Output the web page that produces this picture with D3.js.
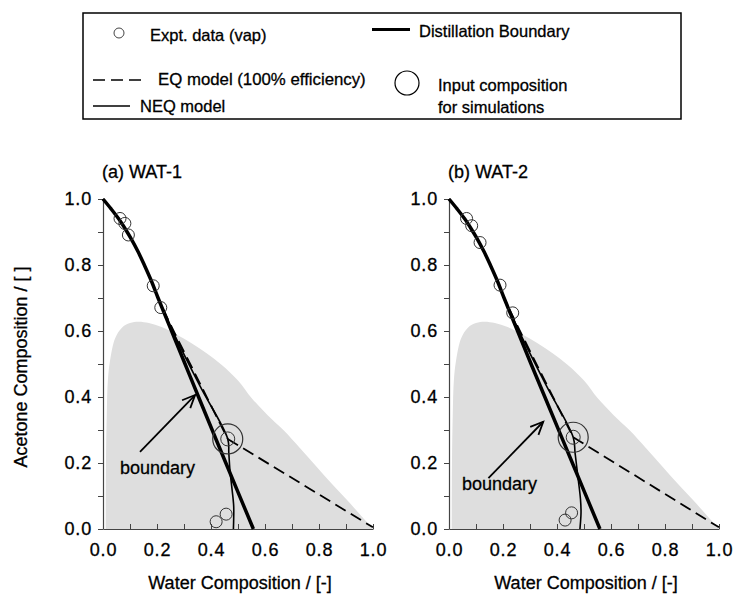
<!DOCTYPE html>
<html><head><meta charset="utf-8">
<script src="https://cdn.jsdelivr.net/npm/d3@7"></script>
<style>
body{margin:0;background:#fff}
text{font-family:"Liberation Sans",Arial,Helvetica,sans-serif;fill:#000;stroke:#000;stroke-width:0.3px}
</style>
</head><body>
<svg id="chart" width="735" height="600"></svg>
<script>
// ---------------- data ----------------
const xTickValues = [0.0, 0.2, 0.4, 0.6, 0.8, 1.0];
const yTickValues = [0.0, 0.2, 0.4, 0.6, 0.8, 1.0];
const minorTickValues = [0.1, 0.3, 0.5, 0.7, 0.9];
const panelTitles = ["(a) WAT-1", "(b) WAT-2"];
const xTitle = "Water Composition / [-]";
const yTitle = "Acetone Composition / [ ]";

// two-liquid-phase (shaded) region, [water, acetone]
const twoPhaseRegion = [[0.010,0],[0.011,0.20],[0.014,0.35],[0.018,0.45],[0.026,0.51],[0.045,0.578],[0.070,0.610],
  [0.100,0.624],[0.131,0.628],[0.170,0.624],[0.217,0.612],[0.270,0.590],[0.328,0.563],[0.385,0.532],[0.440,0.497],
  [0.500,0.450],[0.551,0.396],[0.610,0.345],[0.668,0.300],[0.730,0.245],[0.791,0.189],[0.850,0.135],[0.915,0.078],
  [0.960,0.036],[1.000,0.000]];

// distillation boundary
const boundaryA = [[0,1],[0.030,0.970],[0.058,0.940],[0.082,0.910],[0.104,0.880],[0.130,0.840],[0.153,0.800],[0.180,0.750],
  [0.204,0.700],[0.254,0.600],[0.304,0.500],[0.354,0.400],[0.455,0.200],[0.557,0]];
const boundaryB = [[0,1],[0.030,0.970],[0.058,0.940],[0.082,0.910],[0.104,0.880],[0.130,0.840],[0.153,0.800],[0.180,0.750],
  [0.204,0.700],[0.254,0.600],[0.304,0.500],[0.355,0.400],[0.457,0.200],[0.559,0]];

// EQ model (upper part to feed, then straight to bottom)
const eqUpperA = [[0,1],[0.030,0.970],[0.058,0.940],[0.082,0.910],[0.104,0.880],[0.130,0.840],[0.153,0.800],[0.180,0.750],
  [0.204,0.700],[0.232,0.650],[0.266,0.593],[0.364,0.433],[0.462,0.273]];
const eqLowerA = [[0.462,0.273],[1.000,0.005]];
const eqUpperB = [[0,1],[0.030,0.970],[0.058,0.940],[0.082,0.910],[0.104,0.880],[0.130,0.840],[0.153,0.800],[0.180,0.750],
  [0.204,0.700],[0.232,0.652],[0.266,0.595],[0.363,0.436],[0.460,0.278]];
const eqLowerB = [[0.460,0.278],[1.000,0.005]];

// NEQ model
const neqA = [[0,1],[0.030,0.970],[0.058,0.940],[0.082,0.910],[0.104,0.880],[0.130,0.840],[0.153,0.800],[0.180,0.750],
  [0.204,0.700],[0.230,0.650],[0.262,0.593],[0.360,0.432],[0.462,0.273],
  [0.466,0.230],[0.470,0.179],[0.478,0.120],[0.484,0.070],[0.484,0.030],[0.483,0]];
const neqB = [[0,1],[0.030,0.970],[0.058,0.940],[0.082,0.910],[0.104,0.880],[0.130,0.840],[0.153,0.800],[0.180,0.750],
  [0.204,0.700],[0.230,0.652],[0.262,0.595],[0.360,0.435],[0.460,0.278],
  [0.467,0.230],[0.479,0.148],[0.487,0.090],[0.489,0.050],[0.487,0.020],[0.485,0]];

// experimental vapour data
const exptA = [[0.063,0.941],[0.081,0.926],[0.094,0.891],[0.186,0.737],[0.214,0.671],[0.419,0.022],[0.456,0.045]];
const exptB = [[0.065,0.941],[0.084,0.919],[0.115,0.868],[0.189,0.739],[0.236,0.655],[0.430,0.027],[0.454,0.049]];

// input composition for simulations
const inputA = [0.462, 0.273];
const inputB = [0.460, 0.278];

// "boundary" annotation: arrow from -> to, label anchor
const arrowA = [[0.137,0.234],[0.341,0.406]];
const arrowB = [[0.146,0.154],[0.349,0.325]];
const labelA = [0.063,0.166];
const labelB = [0.048,0.118];
const annotationText = "boundary";

const legendItems = ["Expt. data (vap)", "Distillation Boundary", "EQ model (100% efficiency)", "NEQ model", "Input composition", "for simulations"];

// ---------------- drawing ----------------
const svg = d3.select("#chart");
const panels = [
  {x0:103, x1:373, title:panelTitles[0], boundary:boundaryA, eqU:eqUpperA, eqL:eqLowerA, neq:neqA, expt:exptA, input:inputA, arrow:arrowA, label:labelA},
  {x0:449, x1:719, title:panelTitles[1], boundary:boundaryB, eqU:eqUpperB, eqL:eqLowerB, neq:neqB, expt:exptB, input:inputB, arrow:arrowB, label:labelB}
];
const yTop = 199, yBot = 529;
const fmt = d3.format(".1f");

panels.forEach(p => {
  const x = d3.scaleLinear().domain([0,1]).range([p.x0, p.x1]);
  const y = d3.scaleLinear().domain([0,1]).range([yBot, yTop]);
  const g = svg.append("g");
  const line = d3.line().x(d=>x(d[0])).y(d=>y(d[1])).curve(d3.curveCatmullRom.alpha(0.5));
  const straight = d3.line().x(d=>x(d[0])).y(d=>y(d[1]));

  // shaded region
  g.append("path").attr("d", line(twoPhaseRegion) + "Z").attr("fill", "#dedede").attr("stroke", "none");

  // axes
  const allTicks = xTickValues.concat(minorTickValues).sort((a,b)=>a-b);
  const xAxis = d3.axisBottom(x).tickValues(allTicks).tickSizeInner(-5).tickSizeOuter(0).tickPadding(14)
      .tickFormat(d => xTickValues.includes(d) ? fmt(d) : "");
  const yAxis = d3.axisLeft(y).tickValues(allTicks).tickSizeInner(5).tickSizeOuter(0).tickPadding(6)
      .tickFormat(d => yTickValues.includes(d) ? fmt(d) : "");
  const gx = g.append("g").attr("transform", `translate(0,${yBot})`).call(xAxis);
  const gy = g.append("g").attr("transform", `translate(${p.x0},0)`).call(yAxis);
  [gx, gy].forEach(a => {
    a.select(".domain").attr("stroke", "#444").attr("stroke-width", 1.2);
    a.selectAll(".tick line").attr("stroke", "#444").attr("stroke-width", 1);
    a.selectAll(".tick text").attr("font-size", 18).attr("fill", "#000")
      .attr("font-family", '"Liberation Sans", Arial, sans-serif').attr("letter-spacing", "0.8px");
  });

  // curves
  g.append("path").attr("d", line(p.neq)).attr("fill","none").attr("stroke","#000").attr("stroke-width",1.6);
  g.append("path").attr("d", line(p.eqU)).attr("fill","none").attr("stroke","#000").attr("stroke-width",1.8).attr("stroke-dasharray","12,6");
  g.append("path").attr("d", straight(p.eqL)).attr("fill","none").attr("stroke","#000").attr("stroke-width",1.8).attr("stroke-dasharray","12,6");
  g.append("path").attr("d", line(p.boundary)).attr("fill","none").attr("stroke","#000").attr("stroke-width",3.5);

  // expt data
  g.selectAll("circle.expt").data(p.expt).join("circle").attr("class","expt")
    .attr("cx", d=>x(d[0])).attr("cy", d=>y(d[1])).attr("r", 6)
    .attr("fill","none").attr("stroke","#333").attr("stroke-width",1);

  // input composition
  g.append("circle").attr("cx", x(p.input[0])).attr("cy", y(p.input[1])).attr("r", 15)
    .attr("fill","none").attr("stroke","#333").attr("stroke-width",1.2);
  g.append("circle").attr("cx", x(p.input[0])).attr("cy", y(p.input[1])).attr("r", 7)
    .attr("fill","none").attr("stroke","#333").attr("stroke-width",1);

  // arrow
  const [a0, a1] = p.arrow;
  const X0 = x(a0[0]), Y0 = y(a0[1]), X1 = x(a1[0]), Y1 = y(a1[1]);
  g.append("line").attr("x1",X0).attr("y1",Y0).attr("x2",X1).attr("y2",Y1).attr("stroke","#000").attr("stroke-width",1.8);
  const ang = Math.atan2(Y1-Y0, X1-X0), hl = 14, ha = 0.42;
  g.append("path").attr("d", `M${X1-hl*Math.cos(ang-ha)},${Y1-hl*Math.sin(ang-ha)}L${X1},${Y1}L${X1-hl*Math.cos(ang+ha)},${Y1-hl*Math.sin(ang+ha)}`)
    .attr("fill","none").attr("stroke","#000").attr("stroke-width",1.8);
  g.append("text").attr("x", x(p.label[0])).attr("y", y(p.label[1])).attr("font-size",18).text(annotationText);

  // titles
  g.append("text").attr("x", p.x0 - 1).attr("y", 178).attr("font-size", 18).text(p.title);
  g.append("text").attr("x", (p.x0+p.x1)/2 + 2).attr("y", 589).attr("text-anchor","middle").attr("font-size",18).text(xTitle);
});

svg.append("text").attr("transform","translate(27,367) rotate(-90)").attr("text-anchor","middle").attr("font-size",18).text(yTitle);

// ---------------- legend ----------------
const lg = svg.append("g");
lg.append("rect").attr("x",83).attr("y",13).attr("width",598).attr("height",106).attr("fill","#fff").attr("stroke","#000").attr("stroke-width",1.5);
lg.append("circle").attr("cx",119).attr("cy",33).attr("r",5).attr("fill","none").attr("stroke","#444").attr("stroke-width",1);
lg.append("text").attr("x",150).attr("y",41).attr("font-size",16.5).text(legendItems[0]);
lg.append("line").attr("x1",372).attr("x2",410).attr("y1",29.5).attr("y2",29.5).attr("stroke","#000").attr("stroke-width",3);
lg.append("text").attr("x",419).attr("y",37).attr("font-size",16.5).text(legendItems[1]);
lg.append("line").attr("x1",93).attr("x2",141).attr("y1",80).attr("y2",80).attr("stroke","#000").attr("stroke-width",1.6).attr("stroke-dasharray","12,6");
lg.append("text").attr("x",158).attr("y",85).attr("font-size",16.8).text(legendItems[2]);
lg.append("line").attr("x1",93).attr("x2",130).attr("y1",106).attr("y2",106).attr("stroke","#000").attr("stroke-width",1.4);
lg.append("text").attr("x",140).attr("y",112).attr("font-size",16.5).text(legendItems[3]);
lg.append("circle").attr("cx",407).attr("cy",83).attr("r",12).attr("fill","none").attr("stroke","#000").attr("stroke-width",1.2);
lg.append("text").attr("x",438).attr("y",91).attr("font-size",16.5).text(legendItems[4]);
lg.append("text").attr("x",438).attr("y",113).attr("font-size",16.5).text(legendItems[5]);
</script>
</body></html>
